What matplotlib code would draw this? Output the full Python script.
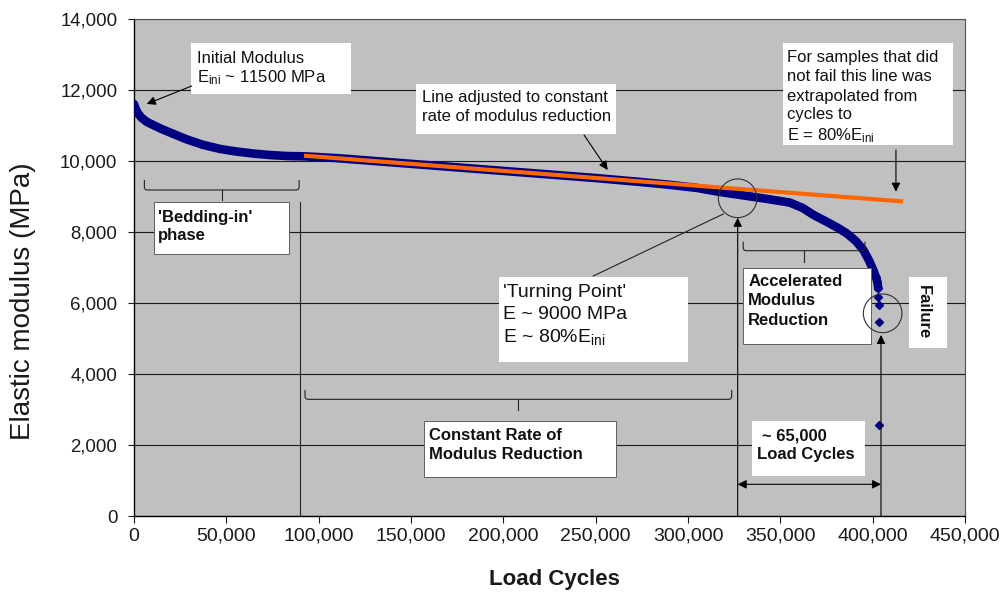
import matplotlib
matplotlib.use("Agg")
import matplotlib.pyplot as plt
from matplotlib.patches import Rectangle, Ellipse, PathPatch
from matplotlib.path import Path
from matplotlib.ticker import FuncFormatter

plt.rcParams["font.family"] = ["Liberation Sans", "DejaVu Sans"]
plt.rcParams["mathtext.fontset"] = "custom"
plt.rcParams["mathtext.rm"] = "Liberation Sans"
plt.rcParams["mathtext.it"] = "Liberation Sans:italic"
plt.rcParams["mathtext.bf"] = "Liberation Sans:bold"

# ---- data -----------------------------------------------------------------
# Elastic modulus recorded during the fatigue test
load_cycles = [0, 800, 2000, 4000, 7000, 10500, 15000, 20000, 28500, 37000,
               46500, 55000, 64600, 73000, 82700, 92600, 110000, 130000,
               150000, 170000, 190000, 210000, 230000, 250000, 274000, 290000,
               305000, 317000, 330000, 343000, 355000, 362000, 368000, 375000,
               381000, 386000, 391000, 395000, 398000, 400300, 401700, 402600,
               403000]
modulus = [11600, 11480, 11350, 11220, 11100, 11010, 10900, 10790, 10610,
           10460, 10340, 10270, 10210, 10170, 10140, 10130, 10080, 10000,
           9920, 9840, 9760, 9680, 9600, 9520, 9410, 9330, 9240, 9130, 9030,
           8930, 8830, 8680, 8480, 8290, 8120, 7960, 7740, 7490, 7200, 6930,
           6740, 6580, 6420]

# Last isolated readings before the specimen failed
failure_cycles = [403000, 403200, 403400, 403500]
failure_modulus = [6180, 5940, 5460, 2570]

# Straight line through the constant-rate phase
trend_cycles = [92000, 416500]
trend_modulus = [10150, 8860]

x_ticks = [0, 50000, 100000, 150000, 200000, 250000, 300000, 350000, 400000, 450000]
y_ticks = [0, 2000, 4000, 6000, 8000, 10000, 12000, 14000]

# ---- figure ---------------------------------------------------------------
NAVY = "#000080"
ORANGE = "#FF6600"
INK = "#111111"

fig = plt.figure(figsize=(10.07, 5.93), dpi=100)
ax = fig.add_axes([0.1331, 0.1298, 0.8252, 0.8382])
ax.set_facecolor("#C0C0C0")
ax.set_xlim(0, 450000)
ax.set_ylim(0, 14000)
ax.set_xticks(x_ticks)
ax.set_yticks(y_ticks)
fmt = FuncFormatter(lambda v, p: f"{int(v):,}")
ax.xaxis.set_major_formatter(fmt)
ax.yaxis.set_major_formatter(fmt)
ax.tick_params(axis="y", labelsize=13.4, length=4, width=0.8, pad=8, colors="#1a1a1a")
ax.tick_params(axis="x", labelsize=14, length=5, width=0.8, pad=3.5, colors="#1a1a1a")
ax.yaxis.grid(True, color="#1a1a1a", lw=0.8)
ax.set_axisbelow(True)
for side in ("left", "bottom"):
    ax.spines[side].set_color("black")
    ax.spines[side].set_linewidth(1.0)
for side in ("top", "right"):
    ax.spines[side].set_color("#505050")
    ax.spines[side].set_linewidth(0.8)

fig.text(23 / 1007, 1 - 301.5 / 593, "Elastic modulus (MPa)", rotation=90,
         ha="center", va="center", fontsize=20, color="#1a1a1a")
fig.text(554.5 / 1007, 1 - 579 / 593, "Load Cycles", ha="center", va="center",
         fontsize=16, fontweight="bold", color="#1a1a1a")

# ---- series ---------------------------------------------------------------
ax.plot(load_cycles, modulus, color=NAVY, lw=6.2, solid_capstyle="round",
        solid_joinstyle="round", zorder=3)
ax.plot(load_cycles[-4:], modulus[-4:], ls="none", marker="D", ms=4.5,
        color=NAVY, zorder=3)
ax.plot(failure_cycles, failure_modulus, ls="none", marker="D", ms=4.5,
        color=NAVY, zorder=3)
ax.plot(trend_cycles, trend_modulus, color=ORANGE, lw=3, solid_capstyle="butt",
        zorder=4)

# ---- annotation helpers ---------------------------------------------------
LINE_KW = dict(color="#222222", lw=0.8)


def box(x0, y0, x1, y1, edge=None):
    ax.add_patch(Rectangle((x0, y0), x1 - x0, y1 - y0, facecolor="white",
                           edgecolor=edge if edge else "none",
                           lw=0.7, zorder=5))


def lines(x, baselines, texts, **kw):
    style = dict(fontsize=12, color=INK, va="baseline", ha="left", zorder=6)
    style.update(kw)
    for b, t in zip(baselines, texts):
        ax.text(x, b, t, **style)


def arrow(tail, tip, style="-|>"):
    ax.annotate("", xy=tip, xytext=tail, zorder=5,
                arrowprops=dict(arrowstyle=style, color="black", lw=0.8,
                                mutation_scale=13, shrinkA=0, shrinkB=0))


def brace(x0, x1, y, xm, rise, drop, rx=1800, ry=90):
    P = Path
    verts = [(x0, y + rise), (x0, y + ry), (x0, y), (x0 + rx, y),
             (x1 - rx, y), (x1, y), (x1, y + ry), (x1, y + rise)]
    codes = [P.MOVETO, P.LINETO, P.CURVE3, P.CURVE3,
             P.LINETO, P.CURVE3, P.CURVE3, P.LINETO]
    ax.add_patch(PathPatch(Path(verts, codes), fill=False, zorder=5, **LINE_KW))
    ax.plot([xm, xm], [y, y - drop], zorder=5, **LINE_KW)


def ring(x, y):
    ax.add_patch(Ellipse((x, y), 20900, 1090, fill=False, ec="#303030",
                         lw=0.8, zorder=5))


SUB = r"$_{\mathrm{ini}}$"

# initial modulus
box(31000, 11890, 117500, 13325)
lines(34100, [12761, 12226], ["Initial Modulus", "E" + SUB + " ~ 11500 MPa"])
arrow((31245, 12113), (6877, 11606))

# fitted line note
box(152700, 10761, 261000, 12169)
lines(155800, [11671, 11127], ["Line adjusted to constant",
                               "rate of modulus reduction"])
arrow((243700, 10733), (256500, 9747))

# extrapolation note
box(351300, 10451, 443500, 13316)
lines(353800, [12798, 12254, 11699, 11175, 10592],
      ["For samples that did", "not fail this line was", "extrapolated from",
       "cycles to", "E = 80%E" + SUB])
arrow((412600, 10310), (412600, 9136))

# bedding-in phase
brace(5600, 89400, 9183, 47500, 282, 282)
box(11000, 7381, 84100, 8854, edge="#606060")
lines(13000, [8291, 7775], ["'Bedding-in'", "phase"], fontweight="bold")
ax.plot([90000, 90000], [8854, 0], zorder=5, **LINE_KW)

# turning point
ring(326900, 8950)
ax.plot([319100, 248700], [8507, 6761], zorder=5, **LINE_KW)
box(197650, 4347, 300150, 6741)
lines(199970, [6178, 5541, 4910],
      ["'Turning Point'", "E ~ 9000 MPa", "E ~ 80%E" + SUB], fontsize=14)
arrow((326900, 0), (326900, 8400))

# constant rate phase
brace(92600, 323650, 3287, 208100, 262, 300)
box(157000, 1090, 261000, 2685, edge="#606060")
lines(159900, [2141, 1606], ["Constant Rate of", "Modulus Reduction"],
      fontweight="bold")

# accelerated phase
brace(329900, 395800, 7473, 363000, 254, 310)
box(329900, 4845, 398900, 6978, edge="#606060")
lines(332600, [6479, 5944, 5380], ["Accelerated", "Modulus", "Reduction"],
      fontweight="bold")

# failure
ring(405400, 5710)
box(419800, 4724, 440100, 6741)
ax.text(427600, 5747, "Failure", rotation=-90, ha="center", va="center",
        fontsize=12, fontweight="bold", color=INK, zorder=6)
arrow((404500, 0), (404500, 5100))

# cycles between turning point and failure
arrow((326900, 893), (404500, 893), style="<|-|>")
box(334500, 1135, 395800, 2685)
lines(339900, [2141], ["~ 65,000"], fontweight="bold")
lines(337500, [1606], ["Load Cycles"], fontweight="bold")

fig.savefig("out.png", dpi=100)
